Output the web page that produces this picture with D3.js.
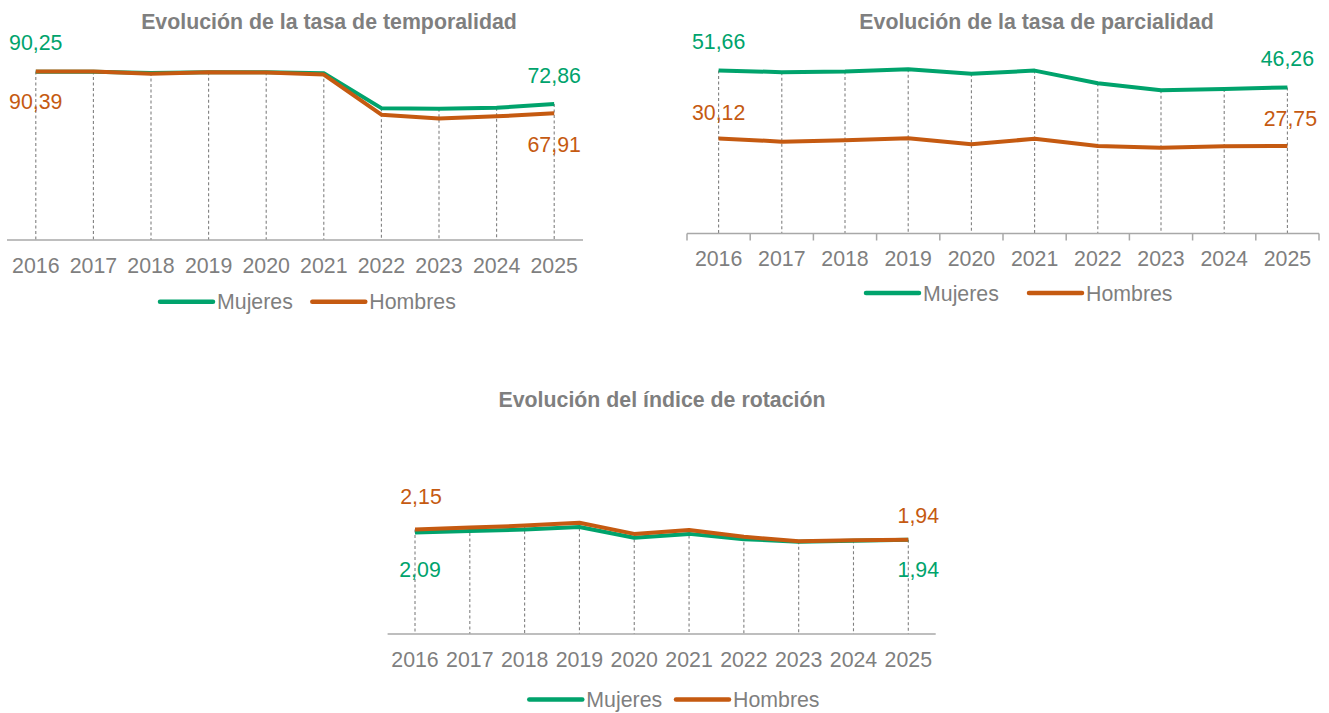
<!DOCTYPE html>
<html>
<head>
<meta charset="utf-8">
<script src="https://cdn.jsdelivr.net/npm/d3@7"></script>
<style>
  html, body { margin: 0; padding: 0; background: #ffffff; }
  svg { display: block; font-family: "Liberation Sans", Arial, sans-serif; }
</style>
</head>
<body>
<svg id="chart" width="1329" height="713"></svg>
<script>
// ---------- DATA ----------
const years = ["2016", "2017", "2018", "2019", "2020", "2021", "2022", "2023", "2024", "2025"];
const seriesNames = ["Mujeres", "Hombres"];

const titleTemporalidad = "Evolución de la tasa de temporalidad";
const temporalidadMujeres = [90.25, 90.2, 89.6, 90.0, 90.0, 89.4, 70.7, 70.4, 70.9, 72.86];
const temporalidadHombres = [90.39, 90.3, 89.2, 90.0, 89.8, 88.7, 67.2, 65.2, 66.3, 67.91];

const titleParcialidad = "Evolución de la tasa de parcialidad";
const parcialidadMujeres = [51.66, 51.1, 51.3, 52.0, 50.6, 51.6, 47.6, 45.4, 45.8, 46.26];
const parcialidadHombres = [30.12, 29.1, 29.5, 30.2, 28.3, 30.0, 27.7, 27.2, 27.6, 27.75];

const titleRotacion = "Evolución del índice de rotación";
const rotacionMujeres = [2.09, 2.12, 2.15, 2.20, 1.98, 2.06, 1.95, 1.90, 1.92, 1.94];
const rotacionHombres = [2.15, 2.19, 2.23, 2.29, 2.06, 2.14, 2.00, 1.91, 1.93, 1.94];

// ---------- STYLE ----------
const GREEN = "#00A36C";
const ORANGE = "#C55A11";
const GRAY_TEXT = "#7F7F7F";
const AXIS_COLOR = "#A8A8A8";
const DROP_COLOR = "#808080";
const FONT_SIZE = "21.33px";

const fmt = v => d3.format(".2f")(v).replace(".", ",");
const svg = d3.select("#chart");

function drawChart(cfg) {
  const g = svg.append("g");
  const x = d3.scaleBand().domain(years).range(cfg.xRange).paddingInner(0).paddingOuter(0);
  const y = d3.scaleLinear().domain(cfg.yDomain).range([cfg.axisY, cfg.axisY - cfg.pxPerUnit * cfg.yDomain[1]]);
  const cx = d => x(d) + x.bandwidth() / 2;

  // title
  g.append("text")
    .attr("x", cfg.titleX).attr("y", cfg.titleY)
    .attr("text-anchor", "middle")
    .attr("font-weight", "bold")
    .attr("font-size", FONT_SIZE)
    .attr("fill", GRAY_TEXT)
    .text(cfg.title);

  // drop lines
  g.append("g").selectAll("line")
    .data(years)
    .join("line")
    .attr("x1", d => cx(d)).attr("x2", d => cx(d))
    .attr("y1", (d, i) => y(Math.max(cfg.mujeres[i], cfg.hombres[i])))
    .attr("y2", cfg.axisY)
    .attr("stroke", DROP_COLOR)
    .attr("stroke-width", 1.1)
    .attr("stroke-dasharray", "3,2.5");

  // x axis via d3.axisBottom
  const axis = d3.axisBottom(x).tickSize(0).tickPadding(0);
  const ax = g.append("g").attr("transform", `translate(0,${cfg.axisY})`).call(axis);
  ax.select(".domain").attr("stroke", AXIS_COLOR).attr("stroke-width", 1.5)
    .attr("d", `M${cfg.xRange[0]},0H${cfg.xRange[1]}`);
  ax.selectAll(".tick text")
    .attr("y", 32.7).attr("dy", null)
    .attr("font-size", FONT_SIZE)
    .attr("font-family", '"Liberation Sans", Arial, sans-serif')
    .attr("fill", GRAY_TEXT);
  ax.selectAll(".tick line").remove();

  if (cfg.boundaryTicks) {
    const bounds = years.map(d => x(d)).concat([cfg.xRange[1]]);
    g.append("g").selectAll("line")
      .data(bounds)
      .join("line")
      .attr("x1", d => d).attr("x2", d => d)
      .attr("y1", cfg.axisY).attr("y2", cfg.axisY + 7)
      .attr("stroke", AXIS_COLOR).attr("stroke-width", 1.5);
  }

  // lines
  const line = d3.line().x((d, i) => cx(years[i])).y(d => y(d));
  g.append("path").datum(cfg.mujeres)
    .attr("d", line).attr("fill", "none")
    .attr("stroke", GREEN).attr("stroke-width", 4)
    .attr("stroke-linejoin", "round");
  g.append("path").datum(cfg.hombres)
    .attr("d", line).attr("fill", "none")
    .attr("stroke", ORANGE).attr("stroke-width", 4)
    .attr("stroke-linejoin", "round");

  // data labels (first and last points)
  const last = years.length - 1;
  const labelSpecs = [
    { vals: cfg.mujeres, i: 0, color: GREEN, off: cfg.labelOff.mFirst },
    { vals: cfg.hombres, i: 0, color: ORANGE, off: cfg.labelOff.hFirst },
    { vals: cfg.mujeres, i: last, color: GREEN, off: cfg.labelOff.mLast },
    { vals: cfg.hombres, i: last, color: ORANGE, off: cfg.labelOff.hLast }
  ];
  g.append("g").selectAll("text")
    .data(labelSpecs)
    .join("text")
    .attr("x", d => cx(years[d.i]) + d.off[0])
    .attr("y", d => y(d.vals[d.i]) + d.off[1])
    .attr("text-anchor", "middle")
    .attr("font-size", FONT_SIZE)
    .attr("fill", d => d.color)
    .text(d => fmt(d.vals[d.i]));

  // legend
  const leg = g.append("g");
  const items = [
    { name: seriesNames[0], color: GREEN, x0: cfg.legend.gx },
    { name: seriesNames[1], color: ORANGE, x0: cfg.legend.ox }
  ];
  items.forEach(it => {
    leg.append("line")
      .attr("x1", it.x0).attr("x2", it.x0 + 53)
      .attr("y1", cfg.legend.y).attr("y2", cfg.legend.y)
      .attr("stroke", it.color).attr("stroke-width", 4.5)
      .attr("stroke-linecap", "round");
    leg.append("text")
      .attr("x", it.x0 + 57).attr("y", cfg.legend.y + 7.6)
      .attr("font-size", FONT_SIZE)
      .attr("fill", GRAY_TEXT)
      .text(it.name);
  });
}

drawChart({
  title: titleTemporalidad, titleX: 329, titleY: 29.3,
  mujeres: temporalidadMujeres, hombres: temporalidadHombres,
  xRange: [7, 583], axisY: 240, yDomain: [0, 100], pxPerUnit: 1.865,
  boundaryTicks: false,
  labelOff: { mFirst: [0, -21.4], hFirst: [0, 37.6], mLast: [0, -21], hLast: [0, 38.5] },
  legend: { y: 301.7, gx: 160, ox: 312.3 }
});

drawChart({
  title: titleParcialidad, titleX: 1036.5, titleY: 29.3,
  mujeres: parcialidadMujeres, hombres: parcialidadHombres,
  xRange: [687, 1319], axisY: 233.5, yDomain: [0, 60], pxPerUnit: 3.157,
  boundaryTicks: true,
  labelOff: { mFirst: [0, -21.4], hFirst: [0, -18.7], mLast: [0, -21.7], hLast: [3, -20.3] },
  legend: { y: 293, gx: 866, ox: 1029 }
});

drawChart({
  title: titleRotacion, titleX: 662, titleY: 407,
  mujeres: rotacionMujeres, hombres: rotacionHombres,
  xRange: [387.6, 935.7], axisY: 634, yDomain: [0, 3], pxPerUnit: 48.6,
  boundaryTicks: false,
  labelOff: { mFirst: [5, 44.6], hFirst: [6, -26], mLast: [10, 37], hLast: [10, -16.7] },
  legend: { y: 699.5, gx: 529.3, ox: 676 }
});
</script>
</body>
</html>
